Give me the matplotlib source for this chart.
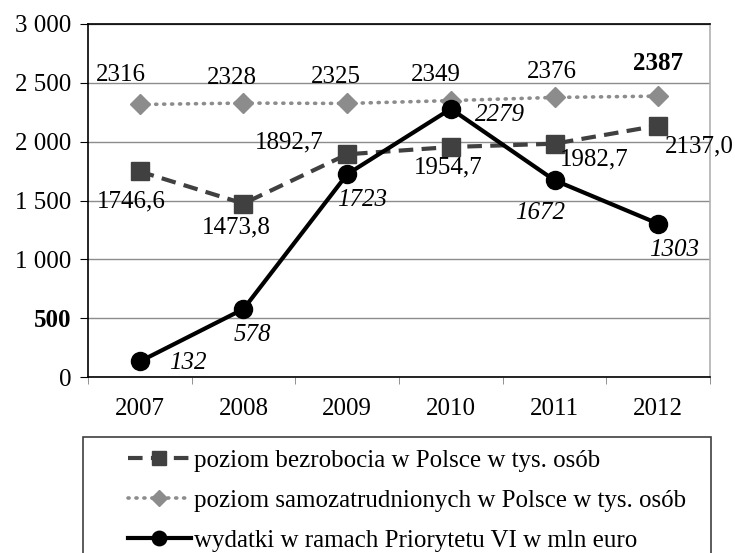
import matplotlib

matplotlib.use("Agg")

import matplotlib.pyplot as plt
from matplotlib.patches import Rectangle

plt.rcParams["font.family"] = ["Liberation Serif", "DejaVu Serif"]

YEARS = ["2007", "2008", "2009", "2010", "2011", "2012"]
UNEMPLOYED = [1746.6, 1473.8, 1892.7, 1954.7, 1982.7, 2137.0]
UNEMPLOYED_LABELS = ["1746,6", "1473,8", "1892,7", "1954,7", "1982,7", "2137,0"]
SELF_EMPLOYED = [2316, 2328, 2325, 2349, 2376, 2387]
SPENDING = [132, 578, 1723, 2279, 1672, 1303]
Y_TICKS = [0, 500, 1000, 1500, 2000, 2500, 3000]
Y_TICK_LABELS = ["0", "500", "1 000", "1 500", "2 000", "2 500", "3 000"]

NAMES = [
    "poziom bezrobocia w Polsce w tys. osób",
    "poziom samozatrudnionych w Polsce w tys. osób",
    "wydatki w ramach Priorytetu VI w mln euro",
]

# label offsets in pixels (dx, dy)
OFF_UNEMP = [(-9, -30), (-7, -24), (-58, 12), (-3, -20), (40, -16), (41, -21)]
OFF_SELF = [(-19, 29), (-12, 25), (-11, 26), (-15, 26), (-3, 25), (0, 33)]
OFF_SPEND = [(48, -2), (9, -26), (15, -26), (49, -6), (-14, -33), (16, -26)]

W, H = 735, 553
FS = 18

fig = plt.figure(figsize=(W / 100, H / 100), dpi=100)
ax = fig.add_axes([88 / W, 1 - 377 / H, (710 - 88) / W, (377 - 24) / H])

x = list(range(len(YEARS)))

l1, = ax.plot(x, UNEMPLOYED, color="#404040", lw=3, dashes=(3.5, 2),
              marker="s", ms=13, zorder=3)
l2, = ax.plot(x, SELF_EMPLOYED, color="#8c8c8c", lw=2.6, linestyle=(0, (0.3, 1.9)),
              dash_capstyle="round", marker="D", ms=10, zorder=3)
l3, = ax.plot(x, SPENDING, color="black", lw=3, marker="o", ms=13, zorder=4)

for i in x:
    ax.annotate(UNEMPLOYED_LABELS[i], (i, UNEMPLOYED[i]), xytext=OFF_UNEMP[i],
                textcoords="offset pixels", ha="center", va="center", fontsize=FS)
    ax.annotate(str(SELF_EMPLOYED[i]), (i, SELF_EMPLOYED[i]), xytext=OFF_SELF[i],
                textcoords="offset pixels", ha="center", va="center", fontsize=FS,
                fontweight="bold" if i == len(x) - 1 else "normal")
    ax.annotate(str(SPENDING[i]), (i, SPENDING[i]), xytext=OFF_SPEND[i],
                textcoords="offset pixels", ha="center", va="center", fontsize=FS,
                fontstyle="italic")

ax.set_xlim(-0.5, len(YEARS) - 0.5)
ax.set_ylim(0, 3000)
ax.set_yticks(Y_TICKS)
ax.set_yticklabels(Y_TICK_LABELS, fontsize=FS)
for lab in ax.get_yticklabels():
    if lab.get_text() == "500":
        lab.set_fontweight("bold")
ax.set_xticks(x)
ax.set_xticklabels(YEARS, fontsize=FS)
ax.set_xticks([i - 0.5 for i in range(len(YEARS) + 1)], minor=True)
ax.tick_params(axis="x", which="major", length=0, pad=15)
ax.tick_params(axis="x", which="minor", length=5, color="#808080", direction="out")
ax.tick_params(axis="y", length=6, color="black", pad=6)

ax.yaxis.grid(True, color="#8c8c8c", lw=1)
ax.set_axisbelow(True)
ax.spines["left"].set_color("black")
ax.spines["bottom"].set_color("black")
ax.spines["top"].set_color("black")
ax.spines["right"].set_color("#b0b0b0")
for s in ax.spines.values():
    s.set_linewidth(1.2)

# legend frame drawn by hand, running off the bottom edge like the source
fig.patches.append(Rectangle((83 / W, -0.05), (711 - 83) / W, 0.05 + 1 - 437 / H,
                             transform=fig.transFigure, fill=False,
                             edgecolor="#404040", lw=1.2))
fig.legend([l1, l2, l3], NAMES, loc="upper left",
           bbox_to_anchor=(128 / W, 1 - 449 / H), frameon=False, fontsize=FS,
           handlelength=2.5, handletextpad=0.15, labelspacing=0.7,
           borderaxespad=0, borderpad=0, markerscale=0.8)

fig.savefig("out.png", dpi=100)
